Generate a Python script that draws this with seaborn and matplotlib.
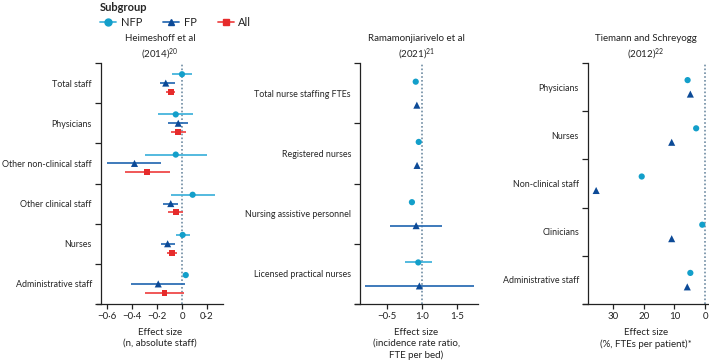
import matplotlib
matplotlib.use("Agg")
import matplotlib.pyplot as plt
from matplotlib.lines import Line2D
import numpy as np
import pandas as pd
import seaborn as sns

fs = 7
fs_y = 6.4
sns.set_theme(style="ticks")
plt.rcParams['font.family'] = ['Lato', 'DejaVu Sans']
plt.rcParams['mathtext.fontset'] = 'custom'
plt.rcParams['mathtext.rm'] = 'Lato'
plt.rcParams['mathtext.it'] = 'Lato:italic'
plt.rcParams['mathtext.bf'] = 'Lato:bold'
plt.rcParams['xtick.labelsize'] = fs
plt.rcParams['ytick.labelsize'] = fs_y

subgroups = ["NFP", "FP", "All"]

### Heimeshoff et al (2014) - absolute staff
heim_cats = ["Total staff", "Physicians", "Other non-clinical staff",
             "Other clinical staff", "Nurses", "Administrative staff"]
heim_nfp = [0.0, -0.05, -0.05, 0.085, 0.005, 0.03]
heim_nfp_lo = [-0.08, -0.19, -0.30, -0.09, -0.05, np.nan]
heim_nfp_hi = [0.08, 0.085, 0.20, 0.26, 0.065, np.nan]
heim_fp = [-0.13, -0.03, -0.38, -0.09, -0.115, -0.19]
heim_fp_lo = [-0.18, -0.11, -0.60, -0.15, -0.17, -0.405]
heim_fp_hi = [-0.06, 0.045, -0.17, -0.035, -0.055, 0.025]
heim_all = [-0.09, -0.03, -0.28, -0.05, -0.08, -0.14]
heim_all_lo = [-0.13, -0.09, -0.46, -0.11, -0.12, -0.30]
heim_all_hi = [-0.06, 0.03, -0.10, 0.005, -0.04, 0.015]
heim_ticks = [-0.6, -0.4, -0.2, 0, 0.2]
heim_ticklabels = ["\u22120\u00b76", "\u22120\u00b74", "\u22120\u00b72", "0", "0\u00b72"]

### Ramamonjiarivelo et al (2021) - IRR
ram_cats = ["Total nurse staffing FTEs", "Registered nurses",
            "Nursing assistive personnel", "Licensed practical nurses"]
ram_nfp = [0.914, 0.957, 0.86, 0.95]
ram_nfp_lo = [np.nan, np.nan, np.nan, 0.76]
ram_nfp_hi = [np.nan, np.nan, np.nan, 1.15]
ram_fp = [0.93, 0.933, 0.92, 0.966]
ram_fp_lo = [np.nan, np.nan, 0.55, 0.19]
ram_fp_hi = [np.nan, np.nan, 1.29, 1.75]
ram_ticks = [0.5, 1.0, 1.5]
ram_ticklabels = ["\u22120\u00b75", "1\u00b70", "1\u00b75"]

### Tiemann and Schreyogg (2012) - % FTEs per patient
tie_cats = ["Physicians", "Nurses", "Non-clinical staff", "Clinicians",
            "Administrative staff"]
tie_nfp = [5.7, 2.9, 20.7, 0.9, 4.8]
tie_fp = [4.8, 10.9, 35.6, 10.9, 5.8]
tie_ticks = [30, 20, 10, 0]
tie_ticklabels = ["30", "20", "10", "0"]


def make_df(cats, series):
    rows = []
    for sg, (est, lo, hi) in series.items():
        for i, c in enumerate(cats):
            rows.append(dict(cat=c, idx=i, subgroup=sg, est=est[i], lo=lo[i], hi=hi[i]))
    return pd.DataFrame(rows)


df_heim = make_df(heim_cats, {"NFP": (heim_nfp, heim_nfp_lo, heim_nfp_hi),
                              "FP": (heim_fp, heim_fp_lo, heim_fp_hi),
                              "All": (heim_all, heim_all_lo, heim_all_hi)})
df_ram = make_df(ram_cats, {"NFP": (ram_nfp, ram_nfp_lo, ram_nfp_hi),
                            "FP": (ram_fp, ram_fp_lo, ram_fp_hi)})
nan5 = [np.nan] * 5
df_tie = make_df(tie_cats, {"NFP": (tie_nfp, nan5, nan5),
                            "FP": (tie_fp, nan5, nan5)})

mk_col = {"NFP": "#139fca", "FP": "#0c4a97", "All": "#e62b2b"}
ci_col = {"NFP": "#45b4dc", "FP": "#2f6fb5", "All": "#ef4a4a"}
markers = {"NFP": "o", "FP": "^", "All": "s"}
sizes = {"NFP": 20, "FP": 26, "All": 18}

fig = plt.figure(figsize=(7.09, 3.64), dpi=100)
H = 364.0
W = 709.0
bot = (H - 304) / H
hgt = 241 / H

panels = [
    dict(df=df_heim, cats=heim_cats, left=97, right=223, xlim=(-0.68, 0.328), ref=0,
         ticks=heim_ticks, tl=heim_ticklabels, spine=4,
         offs={"NFP": 0.28, "FP": 0.5, "All": 0.72},
         title="Heimeshoff et al\n(2014)$^{20}$",
         xlabel="Effect size\n(n, absolute staff)"),
    dict(df=df_ram, cats=ram_cats, left=355, right=478, xlim=(0.05, 1.80), ref=1.0,
         ticks=ram_ticks, tl=ram_ticklabels, spine=5,
         offs={"NFP": 0.31, "FP": 0.70},
         title="Ramamonjiarivelo et al\n(2021)$^{21}$",
         xlabel="Effect size\n(incidence rate ratio,\nFTE per bed)"),
    dict(df=df_tie, cats=tie_cats, left=583, right=709, xlim=(39.9, -1.3), ref=0,
         ticks=tie_ticks, tl=tie_ticklabels, spine=5,
         offs={"NFP": 0.355, "FP": 0.645},
         title="Tiemann and Schreyogg\n(2012)$^{22}$",
         xlabel="Effect size\n(%, FTEs per patient)*"),
]

for p in panels:
    ax = fig.add_axes([p["left"] / W, bot, (p["right"] - p["left"]) / W, hgt])
    d = p["df"].copy()
    d["y"] = d["idx"] + d["subgroup"].map(p["offs"])
    n = len(p["cats"])

    ax.axvline(p["ref"], color="#6f8ca3", lw=1.2, ls=(0, (1, 1.3)), zorder=1)
    for sg in p["offs"]:
        s = d[d.subgroup == sg]
        ax.hlines(s["y"], s["lo"], s["hi"], color=ci_col[sg], lw=1.3, zorder=2)
    sns.scatterplot(data=d, x="est", y="y", hue="subgroup", style="subgroup",
                    palette=mk_col, markers=markers, size="subgroup", sizes=sizes,
                    linewidth=0, legend=False, ax=ax, zorder=3)

    ax.set_xlim(*p["xlim"])
    ax.set_ylim(n, 0)
    ax.set_yticks(np.arange(n + 1))
    ax.set_yticklabels([])
    ax.set_yticks(np.arange(n) + 0.5, minor=True)
    ax.set_yticklabels(p["cats"], minor=True, fontsize=fs_y, color="#222222")
    ax.tick_params(axis="y", which="major", length=4.5, width=0.9, color="#222222")
    ax.tick_params(axis="y", which="minor", length=0, pad=6.5, labelsize=fs_y)
    ax.set_xticks(p["ticks"])
    ax.set_xticklabels(p["tl"], fontsize=fs, color="#222222")
    ax.tick_params(axis="x", length=3.5, width=0.9, color="#222222", pad=2)
    ax.set_xlabel(p["xlabel"], fontsize=fs, color="#222222", labelpad=5, linespacing=1.35)
    ax.set_ylabel("")
    ax.set_title(p["title"], fontsize=fs, color="#222222", pad=4, linespacing=1.35)

    sns.despine(ax=ax)
    ax.spines["left"].set_position(("axes", p["spine"] / (p["right"] - p["left"])))
    for sp in ["left", "bottom"]:
        ax.spines[sp].set_linewidth(0.9)
        ax.spines[sp].set_color("#222222")

handles = [Line2D([0], [0], color=ci_col[sg], lw=1.3, marker=markers[sg],
                  markersize=5, markerfacecolor=mk_col[sg], markeredgecolor=mk_col[sg])
           for sg in subgroups]
leg = fig.legend(handles, subgroups, title="Subgroup", loc="upper left",
                 bbox_to_anchor=(100 / W, 1 - 2 / H), ncol=3, frameon=False,
                 fontsize=8, handlelength=1.45, columnspacing=1.9, handletextpad=0.4,
                 borderpad=0, borderaxespad=0, labelspacing=0.35,
                 title_fontproperties={"weight": "bold", "size": 8})
leg._legend_box.align = "left"
leg._legend_box.sep = 3
for t in leg.get_texts():
    t.set_color("#222222")

fig.savefig("out.png", dpi=100)
